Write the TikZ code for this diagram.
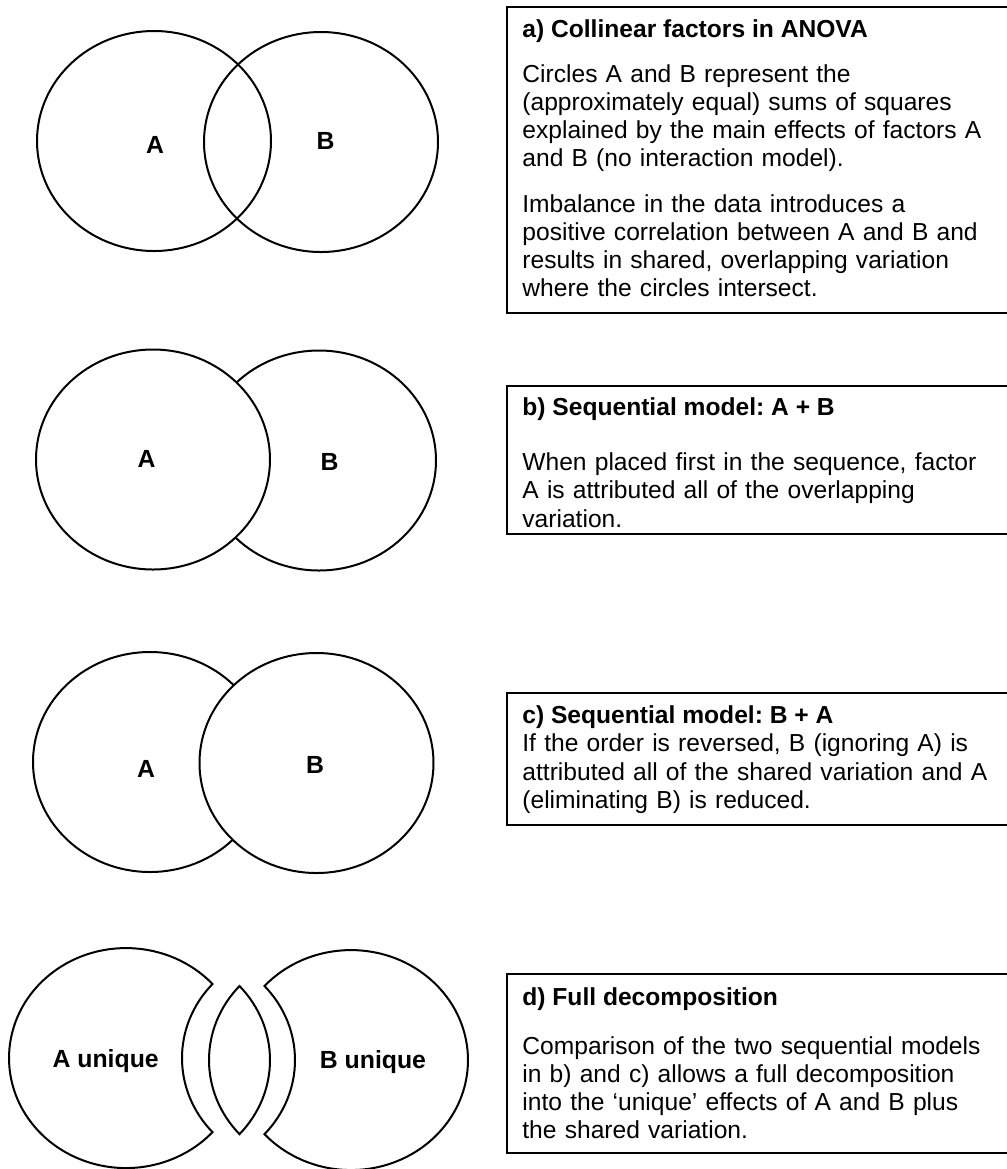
\documentclass[tikz,border=0pt]{standalone}
\usepackage{fontspec}
\setmainfont{Liberation Sans}
\usetikzlibrary{shapes.geometric,positioning}
\tikzset{
    %Define style for the circles
    venn/.style={
           ellipse,
           draw=black, line width=1pt,
           minimum width=117pt,
           minimum height=110pt,
           inner sep=0pt},
    venntop/.style={
           venn,
           fill=white},
    %Define style for the cut pieces
    piece/.style={
           draw=black, line width=1pt,
           fill=white},
    vlabel/.style={
           anchor=base,
           inner sep=0pt,
           font=\bfseries\fontsize{12.4}{15}\selectfont},
    %Define style for boxes
    panel/.style={
           rectangle,
           draw=black, line width=1pt,
           anchor=north west,
           minimum width=255pt,
           inner sep=0pt},
    title/.style={
           anchor=base west,
           inner sep=0pt,
           font=\frenchspacing\bfseries\fontsize{12.3}{14.15}\selectfont},
    body/.style={
           anchor=base west,
           inner sep=0pt,
           text width=245pt,
           align=left,
           font=\frenchspacing\fontsize{12.3}{14.15}\selectfont}
}
\begin{document}
\begin{tikzpicture}[x=0.5pt,y=0.5pt]
\useasboundingbox (0,0) rectangle (1007,-1169);
\clip (0,0) rectangle (1007,-1169);

 %a) collinear factors
\node[venn] (a1) at (154,-141) {};
\node[venn] (a2) at (321,-142) {};
\node[vlabel] (la1) at (155,-153) {A};
\node[vlabel] (la2) at (325.5,-149) {B};

\node[panel, minimum height=153pt] (boxa) at (506,-6) {};
\node[title] (ta) at (522,-37) {a) Collinear factors in ANOVA};
\node[body] (ba1) at (522,-82) {Circles A and B represent the\\
(approximately equal) sums of squares\\
explained by the main effects of factors A\\
and B (no interaction model).};
\node[body] (ba2) at (522,-212) {Imbalance in the data introduces a\\
positive correlation between A and B and\\
results in shared, overlapping variation\\
where the circles intersect.};

 %b) A + B
\node[venn] (b2) at (319,-460.5) {};
\node[venntop] (b1) at (153,-459.5) {};
\node[vlabel] (lb1) at (146.5,-467.5) {A};
\node[vlabel] (lb2) at (329.5,-470) {B};

\node[panel, minimum height=74pt] (boxb) at (506,-385) {};
\node[title] (tb) at (522,-415) {b) Sequential model: A + B};
\node[body] (bb) at (522,-470.5) {When placed first in the sequence, factor\\
A is attributed all of the overlapping\\
variation.};

 %c) B + A
\node[venn] (c1) at (150,-762) {};
\node[venntop] (c2) at (316.5,-763) {};
\node[vlabel] (lc1) at (146,-777.5) {A};
\node[vlabel] (lc2) at (315,-773) {B};

\node[panel, minimum height=66pt] (boxc) at (506,-692) {};
\node[title] (tc) at (522,-723.3) {c) Sequential model: B + A};
\node[body] (bc) at (522,-751.7) {If the order is reversed, B (ignoring A) is\\
attributed all of the shared variation and A\\
(eliminating B) is reduced.};

 %d) full decomposition
\draw[piece] (212.5,-984) arc[start angle=42.33, end angle=317.67, x radius=117, y radius=110]
    arc[start angle=222.33, end angle=137.67, x radius=117, y radius=110] -- cycle;
\draw[piece] (239.5,-986) arc[start angle=137.67, end angle=222.33, x radius=117, y radius=110]
    arc[start angle=-42.33, end angle=42.33, x radius=117, y radius=110] -- cycle;
\draw[piece] (264.5,-986) arc[start angle=137.67, end angle=-137.67, x radius=117, y radius=110]
    arc[start angle=-42.33, end angle=42.33, x radius=117, y radius=110] -- cycle;
\node[vlabel] (ld1) at (105.7,-1067.3) {A unique};
\node[vlabel] (ld2) at (373,-1068.3) {B unique};

\node[panel, minimum height=89.5pt] (boxd) at (506,-973.3) {};
\node[title] (td) at (522,-1005.7) {d) Full decomposition};
\node[body] (bd) at (522,-1054) {Comparison of the two sequential models\\
in b) and c) allows a full decomposition\\
into the ‘unique’ effects of A and B plus\\
the shared variation.};

\end{tikzpicture}
\end{document}
